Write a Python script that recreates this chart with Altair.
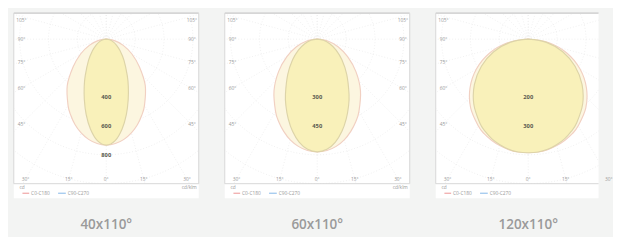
import math
import altair as alt
import pandas as pd

# ---------------- data ----------------
TITLES = ["40x110°", "60x110°", "120x110°"]
STEPS = [200, 150, 100]                       # cd/klm per grid ring
RING_LABELS = [[400, 600, 800], [300, 450], [200, 300]]
ANGLES = [0, 5, 10, 15, 20, 25, 30, 40, 50, 60, 70, 80, 90]
WIDE = [
    [733, 725, 704, 671, 630, 581, 529, 420, 300, 205, 125, 58, 0],
    [585, 580, 565, 541, 509, 473, 433, 349, 262, 182, 115, 55, 0],
    [393, 392, 388, 381, 372, 361, 346, 310, 263, 207, 143, 73, 0],
]
NARROW = [
    [733, 705, 631, 538, 444, 361, 291, 191, 125, 81, 49, 23, 0],
    [585, 574, 542, 495, 440, 384, 330, 238, 167, 113, 69, 33, 0],
    [393, 392, 387, 378, 367, 352, 335, 293, 243, 187, 127, 64, 0],
]
SIDE_ANGLES = [105, 90, 75, 60, 45]
BOTTOM_ANGLES = [-30, -15, 0, 15, 30]
LEGEND = ["C0-C180", "C90-C270"]
LEGEND_COLORS = ["#f2b3b3", "#a9cdef"]
UNIT_LEFT = "cd"
UNIT_RIGHT = "cd/klm"

# ---------------- styling ----------------
BG = "#f3f4f3"
GRID = "#ececec"
FRAME = "#d6d6d6"
LABEL = "#999999"
WIDE_FILL, WIDE_STROKE = "#fcf6e0", "#f1d0c2"
NARROW_FILL, NARROW_STROKE = "#f9f1ba", "#ddd4a8"
FONT = "Open Sans"


def curve_frames(vals):
    area = pd.DataFrame({
        "y": [r * math.cos(math.radians(a)) for a, r in zip(ANGLES, vals)],
        "xl": [-r * math.sin(math.radians(a)) for a, r in zip(ANGLES, vals)],
        "xr": [r * math.sin(math.radians(a)) for a, r in zip(ANGLES, vals)],
    }).sort_values("y")
    pts = []
    seq = [(-a, r) for a, r in zip(ANGLES[::-1], vals[::-1])] + \
          [(a, r) for a, r in zip(ANGLES[1:], vals[1:])]
    for i, (a, r) in enumerate(seq):
        pts.append({"i": i, "x": r * math.sin(math.radians(a)),
                    "y": r * math.cos(math.radians(a))})
    return area, pd.DataFrame(pts)


def panel(p):
    step = STEPS[p]
    U = step / 30.0                      # cd per pixel
    right_px = 96 if p < 2 else 73
    xmin, xmax = -96 * U, right_px * U
    ytop, ybot = -27 * U, 150 * U
    W = 96 + right_px
    xs = alt.Scale(domain=[xmin, xmax], nice=False, zero=False)
    ys = alt.Scale(domain=[ytop, ybot], nice=False, zero=False, reverse=True)
    X = lambda f: alt.X(f, type="quantitative", scale=xs, axis=None)
    Y = lambda f: alt.Y(f, type="quantitative", scale=ys, axis=None)

    layers = []

    # white strip below the frame (legend area)
    strip = pd.DataFrame({"x": [xmin], "x2": [xmax], "y": [ybot], "y2": [165 * U]})
    layers.append(alt.Chart(strip).mark_rect(color="white", clip=False).encode(
        x=X("x"), x2="x2", y=Y("y"), y2="y2"))

    # grid rings
    rows = []
    for k in range(1, 9):
        for d in range(0, 361, 3):
            rows.append({"ring": k, "d": d,
                         "x": k * step * math.sin(math.radians(d)),
                         "y": k * step * math.cos(math.radians(d))})
    layers.append(alt.Chart(pd.DataFrame(rows)).mark_line(
        clip=True, color=GRID, strokeWidth=0.8, strokeDash=[1, 2]).encode(
        x=X("x"), y=Y("y"), detail="ring:N", order="d:Q"))

    # radial lines every 15 degrees
    rows = []
    R = 400 * U
    for a in range(-180, 181, 15):
        rows.append({"a": a, "j": 0, "x": 0.0, "y": 0.0})
        rows.append({"a": a, "j": 1, "x": R * math.sin(math.radians(a)),
                     "y": R * math.cos(math.radians(a))})
    layers.append(alt.Chart(pd.DataFrame(rows)).mark_line(
        clip=True, color=GRID, strokeWidth=0.8, strokeDash=[1, 2]).encode(
        x=X("x"), y=Y("y"), detail="a:N", order="j:Q"))

    # curves
    wide_area, wide_line = curve_frames(WIDE[p])
    nar_area, nar_line = curve_frames(NARROW[p])
    layers.append(alt.Chart(wide_area).mark_area(
        orient="horizontal", interpolate="cardinal", color=WIDE_FILL).encode(
        y=Y("y"), x=X("xl"), x2="xr"))
    layers.append(alt.Chart(wide_line).mark_line(
        interpolate="cardinal", color=WIDE_STROKE, strokeWidth=1.2).encode(
        x=X("x"), y=Y("y"), order="i:Q"))
    layers.append(alt.Chart(nar_area).mark_area(
        orient="horizontal", interpolate="cardinal", color=NARROW_FILL).encode(
        y=Y("y"), x=X("xl"), x2="xr"))
    layers.append(alt.Chart(nar_line).mark_line(
        interpolate="cardinal", color=NARROW_STROKE, strokeWidth=1.2).encode(
        x=X("x"), y=Y("y"), order="i:Q"))

    # ring value labels on the axis
    rl = pd.DataFrame({"x": [0.0] * len(RING_LABELS[p]),
                       "y": [v for v in RING_LABELS[p]],
                       "t": [str(v) for v in RING_LABELS[p]]})
    layers.append(alt.Chart(rl).mark_text(
        font=FONT, fontSize=6, fontWeight="bold", color="#5a5a50",
        baseline="middle").encode(x=X("x"), y=Y("y"), text="t:N"))

    # frame angle labels
    rows = []
    for a in SIDE_ANGLES:
        yp = 88 / math.tan(math.radians(a)) if a != 90 else 0.0
        yp = max(-20, min(143, yp))
        rows.append({"x": -88 * U, "y": yp * U, "t": f"{a}°"})
        if p < 2:
            rows.append({"x": 89 * U, "y": yp * U, "t": f"{a}°"})
    for a in BOTTOM_ANGLES:
        xp = 145 * math.tan(math.radians(abs(a)))
        xp = min(88, xp) * (1 if a > 0 else -1)
        rows.append({"x": xp * U, "y": 145 * U, "t": f"{abs(a)}°"})
    layers.append(alt.Chart(pd.DataFrame(rows)).mark_text(
        font=FONT, fontSize=5, color=LABEL, baseline="middle").encode(
        x=X("x"), y=Y("y"), text="t:N"))

    # frame
    fr = [{"x": xmin, "x2": xmax, "y": ytop, "y2": ytop, "w": 2},
          {"x": xmin, "x2": xmax, "y": ybot, "y2": ybot, "w": 1},
          {"x": xmin, "x2": xmin, "y": ytop, "y2": ybot, "w": 1}]
    if p < 2:
        fr.append({"x": xmax, "x2": xmax, "y": ytop, "y2": ybot, "w": 1})
    layers.append(alt.Chart(pd.DataFrame(fr)).mark_rule(color=FRAME, clip=False).encode(
        x=X("x"), x2="x2", y=Y("y"), y2="y2",
        strokeWidth=alt.StrokeWidth("w:Q", scale=None)))

    # unit labels under the frame
    ul = [{"x": -90 * U, "y": 154 * U, "t": UNIT_LEFT, "al": "left"}]
    if p < 2:
        ul.append({"x": 94 * U, "y": 154 * U, "t": UNIT_RIGHT, "al": "right"})
    ul_df = pd.DataFrame(ul)
    layers.append(alt.Chart(ul_df[ul_df.al == "left"]).mark_text(
        font=FONT, fontSize=5, color=LABEL, align="left", baseline="middle",
        clip=False).encode(x=X("x"), y=Y("y"), text="t:N"))
    if p < 2:
        layers.append(alt.Chart(ul_df[ul_df.al == "right"]).mark_text(
            font=FONT, fontSize=5, color=LABEL, align="right", baseline="middle",
            clip=False).encode(x=X("x"), y=Y("y"), text="t:N"))

    # legend
    lg_lines = pd.DataFrame({"x": [-87 * U, -50 * U], "x2": [-80 * U, -42 * U],
                             "y": [160 * U, 160 * U], "c": LEGEND_COLORS})
    layers.append(alt.Chart(lg_lines).mark_rule(strokeWidth=1.5, clip=False).encode(
        x=X("x"), x2="x2", y=Y("y"), color=alt.Color("c:N", scale=None)))
    lg_text = pd.DataFrame({"x": [-78 * U, -40 * U], "y": [160 * U, 160 * U],
                            "t": LEGEND})
    layers.append(alt.Chart(lg_text).mark_text(
        font=FONT, fontSize=5, color=LABEL, align="left", baseline="middle",
        clip=False).encode(x=X("x"), y=Y("y"), text="t:N"))

    # panel caption
    tt = pd.DataFrame({"x": [0.0], "y": [193 * U], "t": [TITLES[p]]})
    layers.append(alt.Chart(tt).mark_text(
        font=FONT, fontSize=14, fontWeight=600, color="#9a9a9a",
        baseline="middle", clip=False).encode(x=X("x"), y=Y("y"), text="t:N"))

    return alt.layer(*layers).properties(width=W, height=177)


chart = alt.hconcat(panel(0), panel(1), panel(2), spacing=25).properties(
    padding={"left": 5, "top": 0, "right": 0, "bottom": 0},
    background=BG,
).configure_view(strokeWidth=0, fill="white")

chart.save("out.html", embed_options={"renderer": "svg", "actions": False})
